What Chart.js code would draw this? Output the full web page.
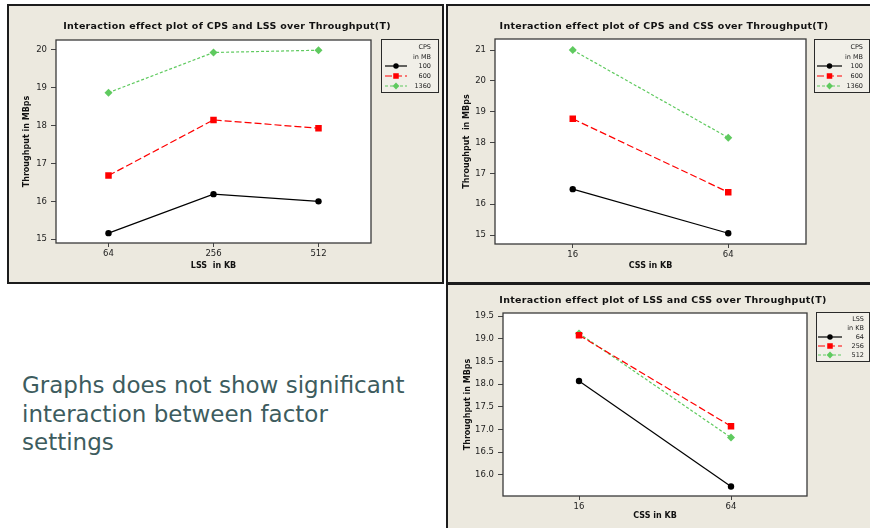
<!DOCTYPE html>
<html>
<head>
<meta charset="utf-8">
<script src="https://cdn.jsdelivr.net/npm/chart.js@4.4.1/dist/chart.umd.min.js"></script>
<style>
  body { margin: 0; background: #fff; width: 870px; height: 528px; overflow: hidden; position: relative; }
  .panel { position: absolute; box-sizing: border-box; border: 2px solid #1c1c1c; background: #ece9df; }
  .panel canvas { position: absolute; left: 0; top: 0; }
  #note { position: absolute; left: 22px; top: 371px; font-family: "DejaVu Sans", sans-serif; font-size: 23px; line-height: 28.5px; color: #3d5c5e; }
</style>
</head>
<body>
<div class="panel" style="left:7px;top:4px;width:437px;height:280px"><canvas id="c1" width="433" height="276"></canvas></div>
<div class="panel" style="left:446px;top:4px;width:430px;height:280px"><canvas id="c2" width="424" height="276"></canvas></div>
<div class="panel" style="left:446px;top:283px;width:430px;height:250px"><canvas id="c3" width="424" height="243"></canvas></div>
<div id="note">Graphs does not show significant<br>interaction between factor<br>settings</div>

<script>
    "use strict";
    // categories
    var lssLabels = ['64', '256', '512'];
    var cssLabels = ['16', '64'];
    var cpsNames = ['100', '600', '1360'];
    var lssNames = ['64', '256', '512'];

    // CPS x LSS
    var cps100ByLss = [15.16, 16.19, 16.00];
    var cps600ByLss = [16.68, 18.15, 17.93];
    var cps1360ByLss = [18.87, 19.93, 19.99];

    // CPS x CSS
    var cps100ByCss = [16.49, 15.06];
    var cps600ByCss = [18.77, 16.39];
    var cps1360ByCss = [21.00, 18.16];

    // LSS x CSS
    var lss64ByCss = [18.07, 15.74];
    var lss256ByCss = [19.08, 17.07];
    var lss512ByCss = [19.12, 16.82];

    // y tick labels
    var yTicks1 = [15, 16, 17, 18, 19, 20];
    var yTicks2 = [15, 16, 17, 18, 19, 20, 21];
    var yTicks3 = [16.0, 16.5, 17.0, 17.5, 18.0, 18.5, 19.0, 19.5];

    var FONT = '"DejaVu Sans", sans-serif';
    var line_styles = [
        {borderColor: '#000000', backgroundColor: '#000000', borderDash: [], pointStyle: 'circle', pointRadius: 3.2},
        {borderColor: '#ff0000', backgroundColor: '#ff0000', borderDash: [7, 3], pointStyle: 'rect', pointRadius: 4.6},
        {borderColor: '#5fca5f', backgroundColor: '#5fca5f', borderDash: [3, 2], pointStyle: 'rectRot', pointRadius: 4}
    ];

    var framePlugin = {
        id: 'frame',
        beforeDraw: function (chart) {
            var a = chart.chartArea, ctx = chart.ctx;
            ctx.save();
            ctx.fillStyle = '#ffffff';
            ctx.fillRect(a.left, a.top, a.right - a.left, a.bottom - a.top);
            ctx.restore();
        },
        afterDraw: function (chart, args, opts) {
            var a = chart.chartArea, ctx = chart.ctx;
            ctx.save();
            ctx.strokeStyle = '#3a3a3a';
            ctx.lineWidth = 1.3;
            ctx.strokeRect(a.left, a.top, a.right - a.left, a.bottom - a.top);

            // title
            ctx.fillStyle = '#111';
            ctx.font = 'bold ' + opts.titleSize + 'px ' + FONT;
            ctx.letterSpacing = '0.3px';
            ctx.textAlign = 'center';
            ctx.textBaseline = 'middle';
            ctx.fillText(opts.title, opts.titleX, opts.titleY);
            ctx.letterSpacing = '0px';

            // legend box
            var lg = opts.legend;
            ctx.fillStyle = '#f1efe8';
            ctx.fillRect(lg.x, lg.y, lg.w, lg.h);
            ctx.strokeStyle = '#2a2a2a';
            ctx.lineWidth = 1;
            ctx.strokeRect(lg.x + 0.5, lg.y + 0.5, lg.w, lg.h);
            ctx.font = '6.5px ' + FONT;
            ctx.textAlign = 'right';
            ctx.fillStyle = '#222';
            ctx.fillText(opts.legendTitle[0], lg.x + lg.w - lg.textPad, lg.y + lg.rows[0]);
            ctx.fillText(opts.legendTitle[1], lg.x + lg.w - lg.textPad, lg.y + lg.rows[1]);
            chart.data.datasets.forEach(function (ds, i) {
                var y = lg.y + lg.rows[i + 2];
                ctx.strokeStyle = ds.borderColor;
                ctx.setLineDash(ds.borderDash);
                ctx.lineWidth = 1.2;
                ctx.beginPath();
                ctx.moveTo(lg.x + lg.line0, y);
                ctx.lineTo(lg.x + lg.line1, y);
                ctx.stroke();
                ctx.setLineDash([]);
                ctx.fillStyle = ds.backgroundColor;
                Chart.helpers.drawPoint(ctx, {pointStyle: ds.pointStyle, radius: ds.pointRadius * 0.85, borderWidth: 0, rotation: 0},
                    lg.x + (lg.line0 + lg.line1) / 2, y);
                ctx.fillStyle = '#222';
                ctx.fillText(opts.seriesNames[i], lg.x + lg.w - lg.textPad, y);
            });
            ctx.restore();
        }
    };

    function makeDatasets(names, values) {
        return values.map(function (vals, i) {
            var st = line_styles[i];
            return {
                label: names[i], data: vals,
                borderColor: st.borderColor, backgroundColor: st.backgroundColor,
                borderDash: st.borderDash, borderWidth: 1.2,
                pointStyle: st.pointStyle, pointRadius: st.pointRadius,
                pointBorderWidth: 0, tension: 0
            };
        });
    }

    function render_Interaction(id, labels, names, values, yTicks, yMin, yMax, dec, xTitle, yTitle, geo, frame) {
        var ctx = document.getElementById(id).getContext('2d');
        return new Chart(ctx, {
            type: 'line',
            data: {labels: labels, datasets: makeDatasets(names, values)},
            plugins: [framePlugin],
            options: {
                responsive: false, animation: false, devicePixelRatio: 1,
                layout: {padding: {left: 0, top: geo.top, right: geo.right, bottom: 0}},
                plugins: {legend: {display: false}, title: {display: false}, tooltip: {enabled: false}, frame: frame},
                scales: {
                    x: {
                        type: 'category', offset: true,
                        afterFit: function (s) { s.height = geo.xh; },
                        grid: {offset: false, drawOnChartArea: false, drawTicks: true, tickLength: 4, color: '#444'},
                        border: {display: false},
                        ticks: {font: {family: FONT, size: 8.5}, color: '#222', padding: 2, maxRotation: 0},
                        title: {display: true, text: xTitle, font: {family: FONT, size: 8, weight: 'bold'}, color: '#111', padding: {top: 0, bottom: geo.xtp}}
                    },
                    y: {
                        min: yMin, max: yMax,
                        afterFit: function (s) { s.width = geo.yw; },
                        afterBuildTicks: function (s) { s.ticks = yTicks.map(function (v) { return {value: v}; }); },
                        grid: {drawOnChartArea: false, drawTicks: true, tickLength: 5, color: '#444'},
                        border: {display: false},
                        ticks: {font: {family: FONT, size: 8.5}, color: '#222', padding: 4,
                            callback: function (v) { return Number(v).toFixed(dec); }},
                        title: {display: true, text: yTitle, font: {family: FONT, size: 8, weight: 'bold'}, color: '#111', padding: {top: geo.ytp, bottom: 0}}
                    }
                }
            }
        });
    }

    render_Interaction('c1', lssLabels, cpsNames, [cps100ByLss, cps600ByLss, cps1360ByLss],
        yTicks1, 14.9, 20.26, 0, 'LSS  in KB', 'Throughput in MBps',
        {top: 34, right: 71, xh: 39, yw: 47, xtp: 11, ytp: 13},
        {title: 'Interaction effect plot of CPS and LSS over Throughput(T)', titleSize: 9.5, titleX: 218, titleY: 21,
         legendTitle: ['CPS', 'in MB'], seriesNames: cpsNames,
         legend: {x: 372, y: 33, w: 57, h: 53, textPad: 7, line0: 4, line1: 26, rows: [8, 18, 27, 37, 47]}});

    render_Interaction('c2', cssLabels, cpsNames, [cps100ByCss, cps600ByCss, cps1360ByCss],
        yTicks2, 14.71, 21.36, 0, 'CSS in KB', 'Throughput  in MBps',
        {top: 33, right: 66, xh: 38, yw: 47, xtp: 11, ytp: 14},
        {title: 'Interaction effect plot of CPS and CSS over Throughput(T)', titleSize: 9.5, titleX: 216, titleY: 21,
         legendTitle: ['CPS', 'in MB'], seriesNames: cpsNames,
         legend: {x: 366, y: 33, w: 55, h: 53, textPad: 6, line0: 3, line1: 28, rows: [8, 18, 27, 37, 47]}});

    render_Interaction('c3', cssLabels, lssNames, [lss64ByCss, lss256ByCss, lss512ByCss],
        yTicks3, 15.53, 19.57, 1, 'CSS in KB', 'Throughput in MBps',
        {top: 28, right: 65, xh: 32, yw: 55, xtp: 7, ytp: 15},
        {title: 'Interaction effect plot of LSS and CSS over Throughput(T)', titleSize: 9.5, titleX: 215, titleY: 16,
         legendTitle: ['LSS', 'in KB'], seriesNames: lssNames,
         legend: {x: 368, y: 27, w: 53, h: 49, textPad: 5, line0: 2, line1: 26, rows: [7, 16, 25, 34, 43]}});
</script>
</body>
</html>
